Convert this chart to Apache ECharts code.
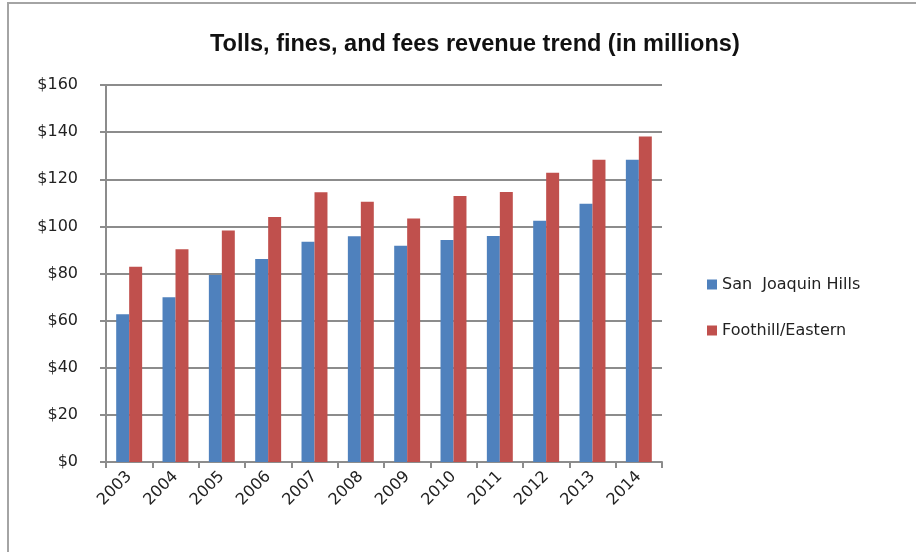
<!DOCTYPE html>
<html>
<head>
<meta charset="utf-8">
<script src="https://cdn.jsdelivr.net/npm/echarts@6/dist/echarts.min.js"></script>
<style>
  html, body { margin: 0; padding: 0; background: #fff; overflow: hidden; width: 916px; height: 552px; }
  #frame {
    position: absolute; left: 7px; top: 2px; width: 1200px; height: 800px;
    border-left: 2px solid #a4a4a4; border-top: 2px solid #a4a4a4;
  }
  #chart { position: absolute; left: 0; top: 0; width: 916px; height: 552px; }
</style>
</head>
<body>
<div id="frame"></div>
<div id="chart"></div>
<script>
// Annual revenue (millions of dollars) for the two toll road systems
const years = ['2003', '2004', '2005', '2006', '2007', '2008', '2009', '2010', '2011', '2012', '2013', '2014'];
const sanJoaquinHills = [62.7, 69.9, 79.4, 86.2, 93.5, 95.8, 91.8, 94.2, 95.9, 102.4, 109.6, 128.3];
const foothillEastern = [82.9, 90.3, 98.3, 104.0, 114.5, 110.5, 103.3, 112.9, 114.6, 122.8, 128.3, 138.1];
const seriesNames = ['San  Joaquin Hills', 'Foothill/Eastern'];
const yTicks = { min: 0, max: 160, interval: 20 };

const axisGray = '#8c8c8c';
const labelFont = 'DejaVu Sans, Verdana, sans-serif';

const chart = echarts.init(document.getElementById('chart'), null, { renderer: 'canvas' });
chart.setOption({
  backgroundColor: 'transparent',
  animation: false,
  title: {
    text: 'Tolls, fines, and fees revenue trend (in millions)',
    left: 205,
    top: 28,
    textStyle: {
      fontFamily: 'Liberation Sans, Arial, sans-serif',
      fontWeight: 'bold',
      fontSize: 23.5,
      color: '#111'
    }
  },
  legend: {
    orient: 'vertical',
    left: 702,
    top: 271,
    itemWidth: 10,
    itemHeight: 10,
    itemGap: 29,
    icon: 'rect',
    textStyle: { fontFamily: labelFont, fontSize: 16, color: '#222', lineHeight: 17 },
    data: seriesNames
  },
  grid: { left: 106, right: 254, top: 85, bottom: 90, containLabel: false },
  xAxis: {
    type: 'category',
    data: years,
    boundaryGap: true,
    axisLine: { lineStyle: { color: axisGray, width: 2 } },
    axisTick: { show: true, length: 6, inside: false, lineStyle: { color: axisGray, width: 2 } },
    axisLabel: {
      rotate: 45, margin: 12, interval: 0,
      fontFamily: labelFont, fontSize: 16, color: '#222'
    },
    splitLine: { show: false }
  },
  yAxis: {
    type: 'value',
    min: yTicks.min, max: yTicks.max, interval: yTicks.interval,
    axisLine: { show: true, lineStyle: { color: axisGray, width: 2 } },
    axisTick: { show: true, length: 6, inside: false, lineStyle: { color: axisGray, width: 2 } },
    axisLabel: {
      margin: 28, fontFamily: labelFont, fontSize: 16, color: '#222',
      formatter: v => '$' + v
    },
    splitLine: { show: true, lineStyle: { color: axisGray, width: 2 } }
  },
  series: [
    {
      name: seriesNames[0], type: 'bar', data: sanJoaquinHills,
      itemStyle: { color: '#4f81bd' },
      barGap: '0%', barCategoryGap: '44%'
    },
    {
      name: seriesNames[1], type: 'bar', data: foothillEastern,
      itemStyle: { color: '#c0504d' },
      barGap: '0%', barCategoryGap: '44%'
    }
  ]
});
</script>
</body>
</html>
